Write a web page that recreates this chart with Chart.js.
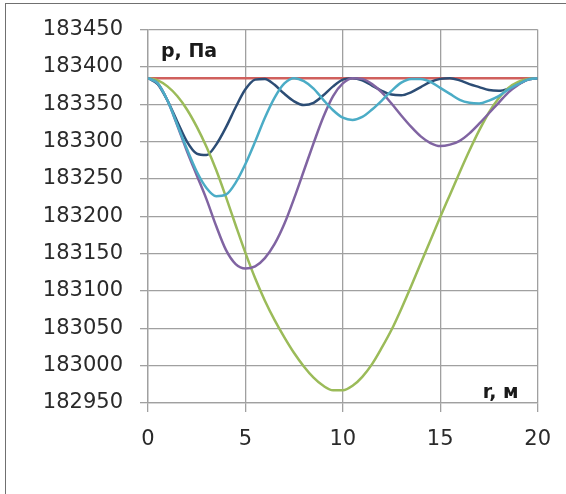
<!DOCTYPE html>
<html><head><meta charset="utf-8">
<script src="https://cdn.jsdelivr.net/npm/chart.js@4.4.1/dist/chart.umd.min.js"></script>
<style>
html,body{margin:0;padding:0;background:#fff;}
#wrap{position:relative;width:566px;height:494px;overflow:hidden;background:#fff;}
#frame{position:absolute;left:5px;top:3px;width:700px;height:700px;border-left:1px solid #707070;border-top:1px solid #707070;}
canvas{position:absolute;left:0;top:0;}
</style></head><body>
<div id="wrap"><div id="frame"></div><canvas id="c" width="566" height="494"></canvas></div>
<script>
// r, m
const rValues = [0,0.5,1,1.5,2,2.5,3,3.5,4,4.5,5,5.5,6,6.5,7,7.5,8,8.5,9,9.5,10,
  10.5,11,11.5,12,12.5,13,13.5,14,14.5,15,15.5,16,16.5,17,17.5,18,18.5,19,19.5,20];
// p, Pa
const redSeries = [183385,183385,183385,183385,183385,183385,183385,183385,183385,183385,183385,
  183385,183385,183385,183385,183385,183385,183385,183385,183385,183385,
  183385,183385,183385,183385,183385,183385,183385,183385,183385,183385,
  183385,183385,183385,183385,183385,183385,183385,183385,183385,183385];
const navySeries = [183385,183377,183355,183327,183300,183284,183282,183296,183319,183346,183370,
  183383,183384,183376,183364,183354,183349,183352,183362,183374,183383,
  183385,183382,183375,183368,183363,183362,183366,183373,183380,183384,
  183385,183382,183377,183373,183369,183368,183371,183377,183383,183385];
const cyanSeries = [183385,183378,183355,183323,183290,183260,183238,183227,183229,183245,183270,
  183300,183332,183359,183378,183385,183381,183371,183356,183342,183332,
  183329,183333,183343,183355,183368,183379,183384,183384,183380,183372,
  183364,183356,183352,183351,183355,183361,183370,183377,183383,183385];
const purpleSeries = [183385,183378,183355,183322,183287,183255,183223,183187,183155,183136,183130,
  183133,183144,183163,183190,183224,183261,183298,183333,183361,183378,
  183385,183384,183377,183366,183351,183335,183320,183307,183298,183294,
  183296,183301,183311,183324,183338,183352,183366,183376,183383,183385];
const greenSeries = [183385,183382,183374,183361,183343,183320,183293,183262,183226,183188,183151,
  183117,183087,183061,183038,183017,182999,182984,182973,182967,182967,
  182973,182985,183002,183024,183048,183076,183106,183137,183168,183199,
  183229,183259,183288,183315,183339,183358,183372,183380,183384,183385];
const xTickValues = [0,5,10,15,20];
const yTickValues = [182950,183000,183050,183100,183150,183200,183250,183300,183350,183400,183450];
const yTitle = 'p, Па';
const xTitle = 'r, м';

const pts = s => rValues.map((r,i)=>({x:r,y:s[i]}));
const mk = (data,color)=>({data:pts(data),borderColor:color,borderWidth:2.5,pointRadius:0,fill:false,cubicInterpolationMode:'monotone'});

const titlePlugin = {id:'titles', afterDraw(chart){
  const {ctx, chartArea:a} = chart;
  ctx.save();
  ctx.font = 'bold 19px "DejaVu Sans"';
  ctx.fillStyle = '#1a1a1a';
  ctx.textBaseline = 'alphabetic';
  ctx.textAlign = 'left';
  ctx.fillText(yTitle, a.left+13, a.top+27);
  ctx.textAlign = 'right';
  ctx.fillText(xTitle, a.right-19, a.bottom-5);
  ctx.restore();
}};

const gridColor = '#a0a0a0';
new Chart(document.getElementById('c'), {
  type:'line',
  data:{datasets:[
    mk(cyanSeries,'#4BACC6'),
    mk(purpleSeries,'#8064A2'),
    mk(greenSeries,'#9BBB59'),
    mk(navySeries,'#2C4D75'),
    mk(redSeries,'#D0605D')
  ]},
  options:{
    responsive:false, animation:false,
    layout:{padding:{left:0,top:28,right:27,bottom:0}},
    plugins:{legend:{display:false},tooltip:{enabled:false}},
    scales:{
      x:{type:'linear',min:0,max:20,
        afterBuildTicks:s=>{s.ticks=xTickValues.map(v=>({value:v}));},
        afterFit:s=>{s.height=91;},
        grid:{color:gridColor,lineWidth:1.3,tickLength:9,drawTicks:true},
        border:{color:gridColor,width:1.3},
        ticks:{font:{family:'DejaVu Sans',size:21},color:'#2a2a2a',padding:15,maxRotation:0,callback:v=>String(v)}},
      y:{type:'linear',min:182950,max:183450,
        afterBuildTicks:s=>{s.ticks=yTickValues.map(v=>({value:v}));},
        afterFit:s=>{s.width=148;},
        grid:{color:gridColor,lineWidth:1.3,tickLength:8,drawTicks:true},
        border:{color:gridColor,width:1.3},
        ticks:{font:{family:'DejaVu Sans',size:21},color:'#2a2a2a',padding:17,callback:v=>String(v)}}
    }
  },
  plugins:[titlePlugin]
});
</script>
</body></html>
